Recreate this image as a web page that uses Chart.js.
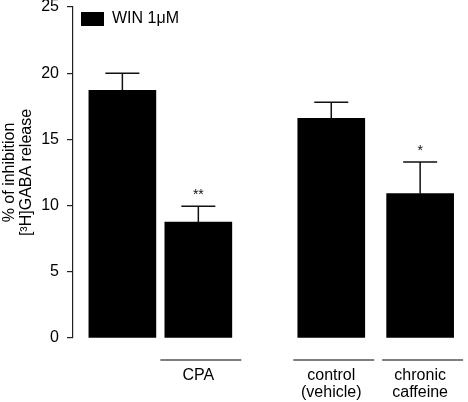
<!DOCTYPE html>
<html>
<head>
<meta charset="utf-8">
<script src="https://cdn.jsdelivr.net/npm/chart.js@4.4.1/dist/chart.umd.min.js"></script>
<style>
  html, body { margin: 0; padding: 0; background: #fff; }
  #wrap { width: 468px; height: 402px; }
</style>
</head>
<body>
<div id="wrap"><canvas id="grafico" width="468" height="402"></canvas></div>
<script>
// dados
const grupos = ['', 'CPA', ['control', '(vehicle)'], ['chronic', 'caffeine']];
const valores = [18.7, 8.75, 16.6, 10.9];
const erros = [1.3, 1.2, 1.2, 2.4];
const asteriscos = ['', '**', '', '*'];
const yTicks = [0, 5, 10, 15, 20, 25];
const legenda = 'WIN 1\u03BCM';

// posições dos grupos no eixo x (espaçamento irregular como no original)
const posicoes = [1, 2, 3.75, 4.92];

const fonte = '"Liberation Sans", Arial, Helvetica, sans-serif';

const errosPlugin = {
  id: 'erros',
  afterDatasetsDraw(chart) {
    const ctx = chart.ctx;
    const y = chart.scales.y;
    const meta = chart.getDatasetMeta(0);
    ctx.save();
    meta.data.forEach((bar, i) => {
      const topo = y.getPixelForValue(valores[i] + erros[i]);
      const base = y.getPixelForValue(valores[i]);
      ctx.strokeStyle = '#111';
      ctx.lineWidth = 1.5;
      ctx.beginPath();
      ctx.moveTo(bar.x, base);
      ctx.lineTo(bar.x, topo);
      ctx.moveTo(bar.x - 17, topo);
      ctx.lineTo(bar.x + 17, topo);
      ctx.stroke();
      if (asteriscos[i]) {
        ctx.fillStyle = '#111';
        ctx.font = '14px ' + fonte;
        ctx.textAlign = 'center';
        ctx.textBaseline = 'middle';
        ctx.fillText(asteriscos[i], bar.x, topo - 11);
      }
      // linha sobre o rótulo do grupo
      if (grupos[i] !== '') {
        const ly = chart.chartArea.bottom + 22;
        ctx.strokeStyle = '#555';
        ctx.lineWidth = 1.5;
        ctx.beginPath();
        ctx.moveTo(bar.x - 38, ly);
        ctx.lineTo(bar.x + 43, ly);
        ctx.stroke();
      }
    });
    ctx.restore();
  }
};

const ctx = document.getElementById('grafico').getContext('2d');

const chart = new Chart(ctx, {
  type: 'bar',
  data: {
    datasets: [{
      label: legenda,
      data: posicoes.map((x, i) => ({ x: x, y: valores[i] })),
      backgroundColor: '#000',
      borderWidth: 0,
      barThickness: 67
    }]
  },
  options: {
    responsive: false,
    animation: false,
    layout: { padding: { top: 7, right: 0, bottom: 0, left: 0 } },
    plugins: {
      tooltip: { enabled: false },
      legend: {
        position: 'chartArea',
        align: 'start',
        title: {
          display: true,
          text: ' ',
          padding: { top: 2, bottom: 0 },
          font: { size: 1, lineHeight: 1 }
        },
        labels: {
          boxWidth: 23,
          boxHeight: 14,
          padding: 8,
          color: '#000',
          font: { family: fonte, size: 16 }
        }
      }
    },
    scales: {
      x: {
        type: 'linear',
        min: 0.35,
        max: 5.55,
        offset: false,
        grid: { display: false },
        border: { display: false },
        afterBuildTicks: (s) => { s.ticks = posicoes.map(v => ({ value: v })); },
        afterFit: (s) => { s.height = 64; s.paddingLeft = 0; s.paddingRight = 0; },
        ticks: {
          autoSkip: false,
          maxRotation: 0,
          padding: 21,
          color: '#000',
          font: { family: fonte, size: 16, lineHeight: 1.06 },
          callback: (v, i) => grupos[i]
        }
      },
      y: {
        min: 0,
        max: 25,
        afterBuildTicks: (s) => { s.ticks = yTicks.map(v => ({ value: v })); },
        afterFit: (s) => { s.width = 73; s.paddingTop = 0; s.paddingBottom = 0; },
        grid: { drawOnChartArea: false, drawTicks: true, tickLength: 6, color: '#222', lineWidth: 1.2 },
        border: { display: true, color: '#222', width: 1.2 },
        ticks: {
          padding: 8,
          color: '#000',
          font: { family: fonte, size: 16 }
        },
        title: {
          display: true,
          text: ['% of inhibition', '[\u00B3H]GABA release'],
          color: '#000',
          padding: { top: 1.5, bottom: 0 },
          font: { family: fonte, size: 16, lineHeight: 1.06 }
        }
      }
    }
  },
  plugins: [errosPlugin]
});
</script>
</body>
</html>
